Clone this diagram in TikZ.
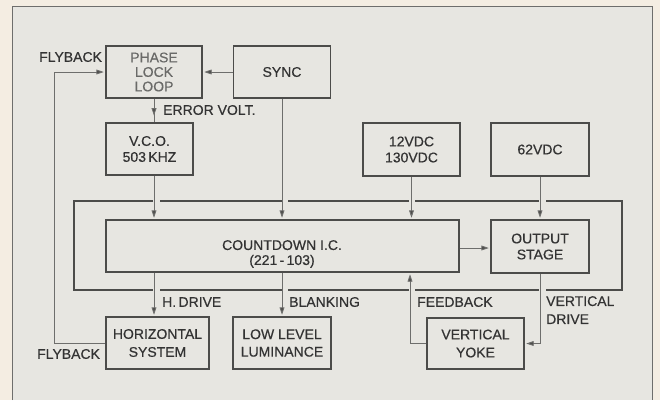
\documentclass[tikz,border=0pt]{standalone}
\usepackage{fontspec}
\setmainfont{Liberation Sans}[BoldFont={Liberation Sans}, BoldFeatures={FakeBold=0.5}]
\usetikzlibrary{arrows.meta,decorations.markings}
\definecolor{outerbg}{HTML}{F4EDE2}
\definecolor{innerbg}{HTML}{E7E6E1}
\definecolor{boxline}{HTML}{4C4C4A}
\definecolor{conline}{HTML}{6E6E6C}
\definecolor{txt}{HTML}{333333}
\definecolor{fadetxt}{HTML}{6A6A68}
\tikzset{
  blk/.style={draw=boxline, line width=1.4pt, fill=innerbg, align=center, inner sep=0pt,
    font=\fontsize{14}{16}\selectfont\bfseries, text=txt},
  con/.style={draw=conline, line width=0.9pt},
  arr/.style={con, -{Triangle[length=7.5pt,width=4.8pt,fill=boxline]}, shorten >=1.5pt},
  lbl/.style={font=\fontsize{14}{18}\selectfont\bfseries, text=txt, inner sep=0pt, align=left},
  frameline/.style={draw=boxline, line width=1.8pt},
  midarr/.style={con, postaction={decorate}, decoration={markings,
    mark=at position 0.72 with {\arrow{Triangle[length=7.5pt,width=4.8pt,fill=boxline]}}}}
}
\begin{document}
\begin{tikzpicture}[x=1pt,y=-1pt]
\useasboundingbox (0,0) rectangle (660,400);
\fill[outerbg] (0,0) rectangle (660,400);
\fill[innerbg] (12,6) rectangle (652,400);
\draw[draw=conline, line width=0.9pt] (12,400) -- (12,6) -- (652,6) -- (652,400);

% blocks
\node[blk, minimum width=96pt, minimum height=52pt, text=fadetxt,
  font=\fontsize{14}{14.5}\selectfont\bfseries] (pll) at (154,72) {PHASE\\LOCK\\LOOP};
\node[blk, minimum width=97pt, minimum height=52pt] (sync) at (282,72) {SYNC};
\node[blk, minimum width=87pt, minimum height=52pt] (vco) at (149.5,149) {V.C.O.\\503\,KHZ};
\node[blk, minimum width=97pt, minimum height=53pt] (v12) at (411.5,149.5) {12VDC\\130VDC};
\node[blk, minimum width=98pt, minimum height=53pt] (v62) at (540,149.5) {62VDC};
\node[blk, minimum width=353pt, minimum height=52pt] (cd) at (282.5,246) {};
\node[lbl, align=center, font=\fontsize{14}{15}\selectfont\bfseries] (cdt) at (282,254) {COUNTDOWN I.C.\\(221\,-\,103)};
\node[blk, minimum width=98pt, minimum height=53pt] (op) at (540,246.5) {OUTPUT\\STAGE};
\node[blk, minimum width=103pt, minimum height=52pt, font=\fontsize{14}{18}\selectfont\bfseries] (hs) at (157.5,343) {HORIZONTAL\\SYSTEM};
\node[blk, minimum width=98pt, minimum height=52pt, font=\fontsize{14}{17.5}\selectfont\bfseries] (lum) at (282,343) {LOW LEVEL\\LUMINANCE};
\node[blk, minimum width=97pt, minimum height=51pt, font=\fontsize{14}{18}\selectfont\bfseries] (vy) at (475.5,343.5) {VERTICAL\\YOKE};

% helper coordinates
\coordinate (xa) at (154,0);
\coordinate (xfb) at (410,0);
\coordinate (xfl) at (54,0);
\coordinate (yo) at (0,248);

% surrounding frame with crossing gaps
\draw[frameline] (153,201) -- (74,201) -- (74,290) -- (153,290);
\draw[frameline] (160,201) -- (282,201);
\draw[frameline] (288,201) -- (409,201);
\draw[frameline] (415,201) -- (539,201);
\draw[frameline] (546,201) -- (622,201) -- (622,290) -- (546,290);
\draw[frameline] (160,290) -- (282,290);
\draw[frameline] (288,290) -- (409,290);
\draw[frameline] (415,290) -- (539,290);

% connectors
\draw[midarr] (xa |- pll.south) -- (xa |- vco.north);
\draw[arr] (sync.west) -- (pll.east);
\draw[arr] (hs.west) -| (xfl |- pll.west) -- (pll.west);
\draw[arr] (xa |- vco.south) -- (xa |- cd.north);
\draw[arr] (sync.south) -- (sync.south |- cd.north);
\draw[arr] (v12.south) -- (v12.south |- cd.north);
\draw[arr] (v62.south) -- (op.north);
\draw[arr] (cd.east |- yo) -- (op.west |- yo);
\draw[arr] (xa |- cd.south) -- (xa |- hs.north);
\draw[arr] (lum.north |- cd.south) -- (lum.north);
\draw[arr] (vy.west) -| (xfb |- cd.south);
\draw[arr] (op.south) |- (vy.east);

% labels
\node[lbl, anchor=west] (lfly1) at (39,57) {FLYBACK};
\node[lbl, anchor=west] (lerr) at (163,110) {ERROR VOLT.};
\node[lbl, anchor=west] (lhd) at (162,302) {H.\,DRIVE};
\node[lbl, anchor=west] (lbl1) at (289,302) {BLANKING};
\node[lbl, anchor=west] (lfb) at (417,302) {FEEDBACK};
\node[lbl, anchor=north west] (lvd) at (546,296) {VERTICAL\\DRIVE};
\node[lbl, anchor=west] (lfly2) at (37,354) {FLYBACK};
\end{tikzpicture}
\end{document}
